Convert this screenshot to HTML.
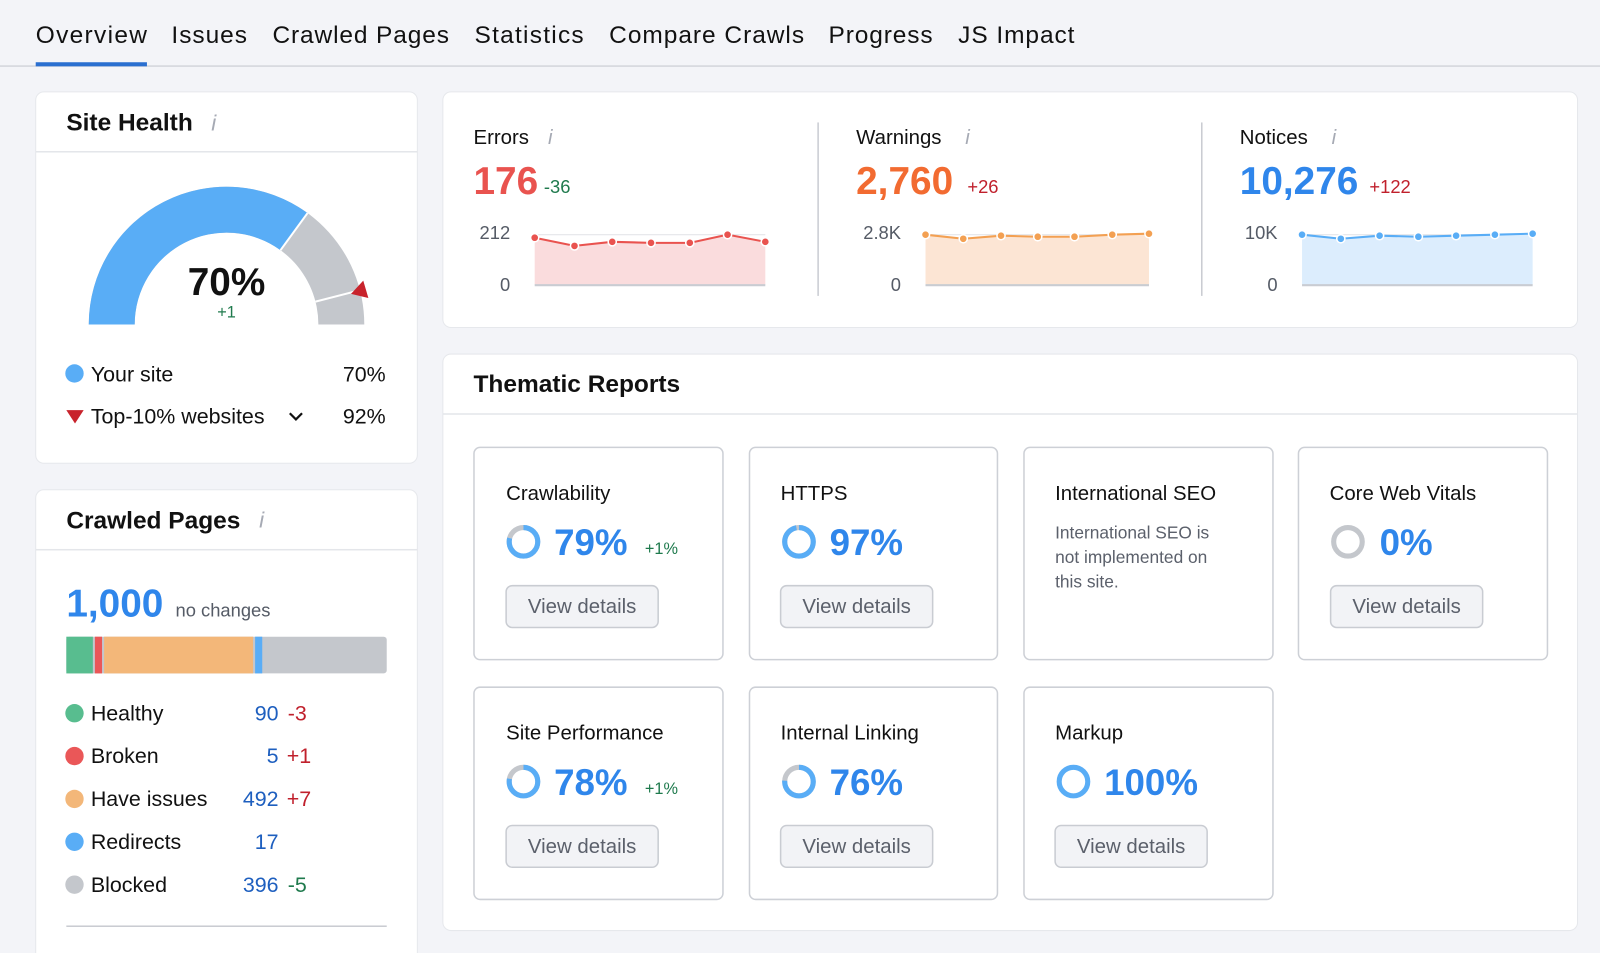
<!DOCTYPE html>
<html><head><meta charset="utf-8"><style>
html,body{margin:0;padding:0;background:#f3f4f8;}
svg{display:block}
text{font-family:"Liberation Sans",sans-serif;}
</style></head><body>
<svg width="1600" height="953" viewBox="0 0 1568 934" preserveAspectRatio="none" xmlns="http://www.w3.org/2000/svg">
<rect x="0" y="0" width="1568" height="934" fill="#f3f4f8"/>
<g font-size="24" fill="#111">
<text x="35" y="42" textLength="109">Overview</text>
<text x="168" y="42" textLength="74">Issues</text>
<text x="267" y="42" textLength="173">Crawled Pages</text>
<text x="465" y="42" textLength="107">Statistics</text>
<text x="597" y="42" textLength="191">Compare Crawls</text>
<text x="812" y="42" textLength="102">Progress</text>
<text x="939" y="42" textLength="114">JS Impact</text>
</g>
<rect x="0" y="64" width="1568" height="1.5" fill="#d3d6dc"/>
<rect x="35" y="61" width="109" height="4" fill="#2a6fd0"/>

<rect x="35" y="90" width="374" height="364" rx="8" fill="#fff" stroke="#e6e8ec"/>
<text x="65" y="128" font-size="24" font-weight="bold" fill="#111">Site Health</text>
<text x="207" y="128" font-size="22" font-style="italic" fill="#a6aab4" font-family="Liberation Serif">i</text>
<rect x="35" y="148" width="374" height="1.5" fill="#e4e6ea"/>
<path d="M87 318 A135 135 0 0 1 357 318 L312 318 A90 90 0 0 0 132 318 Z" fill="#c4c7cc"/>
<path d="M87 318 A135 135 0 0 1 301.4 208.8 L274.9 245.2 A90 90 0 0 0 132 318 Z" fill="#59adf6"/>
<line x1="301.4" y1="208.8" x2="274.9" y2="245.2" stroke="#fff" stroke-width="2"/>
<line x1="352.8" y1="284.4" x2="309.2" y2="295.6" stroke="#fff" stroke-width="2"/>
<polygon points="344,288 356,275 361,292" fill="#c8232c"/>
<text x="222" y="289" font-size="38" font-weight="bold" fill="#111" text-anchor="middle">70%</text>
<text x="222" y="311" font-size="16" fill="#1f7a4d" text-anchor="middle">+1</text>
<circle cx="73" cy="366" r="9" fill="#59adf6"/>
<text x="89" y="374" font-size="21" fill="#111">Your site</text>
<text x="378" y="374" font-size="21" fill="#111" text-anchor="end">70%</text>
<polygon points="65,402 82,402 73.5,415" fill="#c8232c"/>
<text x="89" y="415" font-size="21" fill="#111">Top-10% websites</text>
<path d="M284 405 L290 411 L296 405" fill="none" stroke="#111" stroke-width="2.2"/>
<text x="378" y="415" font-size="21" fill="#111" text-anchor="end">92%</text>

<rect x="35" y="480" width="374" height="470" rx="8" fill="#fff" stroke="#e6e8ec"/>
<text x="65" y="518" font-size="24" font-weight="bold" fill="#111">Crawled Pages</text>
<text x="254" y="517" font-size="22" font-style="italic" fill="#a6aab4" font-family="Liberation Serif">i</text>
<rect x="35" y="538" width="374" height="1.5" fill="#e4e6ea"/>
<text x="65" y="604" font-size="38" font-weight="bold" fill="#2f86eb">1,000</text>
<text x="172" y="604" font-size="18" fill="#555b66">no changes</text>
<rect x="65" y="624" width="314" height="36" rx="3" fill="#c4c7cc"/>
<rect x="65" y="624" width="26" height="36" fill="#58bd8f"/>
<rect x="93" y="624" width="7" height="36" fill="#ea5758"/>
<rect x="102" y="624" width="146" height="36" fill="#f3b779"/>
<rect x="250" y="624" width="7" height="36" fill="#59adf6"/>
<g font-size="21">
<circle cx="73" cy="699" r="9" fill="#58bd8f"/><text x="89" y="706" fill="#111">Healthy</text><text x="273" y="706" fill="#1e5fbf" text-anchor="end">90</text><text x="282" y="706" fill="#c0202c">-3</text>
<circle cx="73" cy="741" r="9" fill="#ea5758"/><text x="89" y="748" fill="#111">Broken</text><text x="273" y="748" fill="#1e5fbf" text-anchor="end">5</text><text x="281" y="748" fill="#c0202c">+1</text>
<circle cx="73" cy="783" r="9" fill="#f3b779"/><text x="89" y="790" fill="#111">Have issues</text><text x="273" y="790" fill="#1e5fbf" text-anchor="end">492</text><text x="281" y="790" fill="#c0202c">+7</text>
<circle cx="73" cy="825" r="9" fill="#59adf6"/><text x="89" y="832" fill="#111">Redirects</text><text x="273" y="832" fill="#1e5fbf" text-anchor="end">17</text>
<circle cx="73" cy="867" r="9" fill="#c4c7cc"/><text x="89" y="874" fill="#111">Blocked</text><text x="273" y="874" fill="#1e5fbf" text-anchor="end">396</text><text x="282" y="874" fill="#1f7a4d">-5</text>
</g>
<rect x="65" y="907" width="314" height="1.5" fill="#c9ccd2"/>

<rect x="434" y="90" width="1112" height="231" rx="8" fill="#fff" stroke="#e6e8ec"/>
<rect x="801" y="120" width="1.5" height="170" fill="#c9ccd2"/>
<rect x="1177" y="120" width="1.5" height="170" fill="#c9ccd2"/>
<g font-size="20" fill="#111">
<text x="464" y="141">Errors</text>
<text x="839" y="141">Warnings</text>
<text x="1215" y="141">Notices</text>
</g>
<g font-size="20" font-style="italic" fill="#a6aab4" font-family="Liberation Serif">
<text x="537" y="141">i</text><text x="946" y="141">i</text><text x="1305" y="141">i</text>
</g>
<text x="464" y="190" font-size="38" font-weight="bold" fill="#e9534f">176</text>
<text x="533" y="189" font-size="18" fill="#1f7a4d">-36</text>
<text x="839" y="190" font-size="38" font-weight="bold" fill="#f26b31">2,760</text>
<text x="948" y="189" font-size="18" fill="#c0202c">+26</text>
<text x="1215" y="190" font-size="38" font-weight="bold" fill="#2f86eb">10,276</text>
<text x="1342" y="189" font-size="18" fill="#c0202c">+122</text>
<g font-size="18" fill="#555b66" text-anchor="end">
<text x="500" y="234">212</text><text x="500" y="285">0</text>
<text x="883" y="234">2.8K</text><text x="883" y="285">0</text>
<text x="1252" y="234">10K</text><text x="1252" y="285">0</text>
</g>
<line x1="524" y1="230" x2="750" y2="230" stroke="#e4e6ea"/>
<polygon points="524,233 563,241 600,237 638,238 676,238 713,230 750,237 750,279 524,279" fill="#fadcdd"/>
<polyline points="524,233 563,241 600,237 638,238 676,238 713,230 750,237" fill="none" stroke="#e9534f" stroke-width="2"/>
<line x1="524" y1="279.5" x2="750" y2="279.5" stroke="#c9ccd2" stroke-width="2"/>
<g fill="#e9534f" stroke="#fff" stroke-width="1.5">
<circle cx="524" cy="233" r="4"/><circle cx="563" cy="241" r="4"/><circle cx="600" cy="237" r="4"/><circle cx="638" cy="238" r="4"/><circle cx="676" cy="238" r="4"/><circle cx="713" cy="230" r="4"/><circle cx="750" cy="237" r="4"/>
</g>
<line x1="907" y1="230" x2="1126" y2="230" stroke="#e4e6ea"/>
<polygon points="907,230 944,234 981,231 1017,232 1053,232 1090,230 1126,229 1126,279 907,279" fill="#fce5d4"/>
<polyline points="907,230 944,234 981,231 1017,232 1053,232 1090,230 1126,229" fill="none" stroke="#f3a052" stroke-width="2"/>
<line x1="907" y1="279.5" x2="1126" y2="279.5" stroke="#c9ccd2" stroke-width="2"/>
<g fill="#f3a052" stroke="#fff" stroke-width="1.5">
<circle cx="907" cy="230" r="4"/><circle cx="944" cy="234" r="4"/><circle cx="981" cy="231" r="4"/><circle cx="1017" cy="232" r="4"/><circle cx="1053" cy="232" r="4"/><circle cx="1090" cy="230" r="4"/><circle cx="1126" cy="229" r="4"/>
</g>
<line x1="1276" y1="230" x2="1502" y2="230" stroke="#e4e6ea"/>
<polygon points="1276,230 1314,234 1352,231 1390,232 1427,231 1465,230 1502,229 1502,279 1276,279" fill="#dcedfd"/>
<polyline points="1276,230 1314,234 1352,231 1390,232 1427,231 1465,230 1502,229" fill="none" stroke="#59adf6" stroke-width="2"/>
<line x1="1276" y1="279.5" x2="1502" y2="279.5" stroke="#c9ccd2" stroke-width="2"/>
<g fill="#59adf6" stroke="#fff" stroke-width="1.5">
<circle cx="1276" cy="230" r="4"/><circle cx="1314" cy="234" r="4"/><circle cx="1352" cy="231" r="4"/><circle cx="1390" cy="232" r="4"/><circle cx="1427" cy="231" r="4"/><circle cx="1465" cy="230" r="4"/><circle cx="1502" cy="229" r="4"/>
</g>

<rect x="434" y="347" width="1112" height="565" rx="8" fill="#fff" stroke="#e6e8ec"/>
<text x="464" y="384" font-size="24" font-weight="bold" fill="#111">Thematic Reports</text>
<rect x="434" y="405" width="1112" height="1.5" fill="#e4e6ea"/>

<g fill="#fff" stroke="#cdd0d6" stroke-width="1.5">
<rect x="464.5" y="438.5" width="244" height="208" rx="6"/>
<rect x="734.5" y="438.5" width="243" height="208" rx="6"/>
<rect x="1003.5" y="438.5" width="244" height="208" rx="6"/>
<rect x="1272.5" y="438.5" width="244" height="208" rx="6"/>
<rect x="464.5" y="673.5" width="244" height="208" rx="6"/>
<rect x="734.5" y="673.5" width="243" height="208" rx="6"/>
<rect x="1003.5" y="673.5" width="244" height="208" rx="6"/>
</g>
<g font-size="20" fill="#111">
<text x="496" y="490">Crawlability</text>
<text x="765" y="490">HTTPS</text>
<text x="1034" y="490">International SEO</text>
<text x="1303" y="490">Core Web Vitals</text>
<text x="496" y="725">Site Performance</text>
<text x="765" y="725">Internal Linking</text>
<text x="1034" y="725">Markup</text>
</g>
<g font-size="17" fill="#5b606b">
<text x="1034" y="528">International SEO is</text>
<text x="1034" y="552">not implemented on</text>
<text x="1034" y="576">this site.</text>
</g>
<g fill="none" stroke-width="5">
<circle cx="513" cy="531" r="14" stroke="#c4c7cc"/>
<circle cx="513" cy="531" r="14" stroke="#59adf6" stroke-dasharray="69.5 100" transform="rotate(-90 513 531)"/>
<circle cx="783" cy="531" r="14" stroke="#c4c7cc"/>
<circle cx="783" cy="531" r="14" stroke="#59adf6" stroke-dasharray="85.3 100" transform="rotate(-90 783 531)"/>
<circle cx="1321" cy="531" r="14" stroke="#c4c7cc"/>
<circle cx="513" cy="766" r="14" stroke="#c4c7cc"/>
<circle cx="513" cy="766" r="14" stroke="#59adf6" stroke-dasharray="68.6 100" transform="rotate(-90 513 766)"/>
<circle cx="783" cy="766" r="14" stroke="#c4c7cc"/>
<circle cx="783" cy="766" r="14" stroke="#59adf6" stroke-dasharray="66.8 100" transform="rotate(-90 783 766)"/>
<circle cx="1052" cy="766" r="14" stroke="#59adf6"/>
</g>
<g font-size="36" font-weight="bold" fill="#2f86eb">
<text x="543" y="544">79%</text>
<text x="813" y="544">97%</text>
<text x="1352" y="544">0%</text>
<text x="543" y="779">78%</text>
<text x="813" y="779">76%</text>
<text x="1082" y="779">100%</text>
</g>
<g font-size="16" fill="#1f7a4d">
<text x="632" y="543">+1%</text>
<text x="632" y="778">+1%</text>
</g>
<g fill="#f2f3f6" stroke="#c9ccd2" stroke-width="1.5">
<rect x="496" y="574" width="149" height="41" rx="6"/>
<rect x="765" y="574" width="149" height="41" rx="6"/>
<rect x="1304" y="574" width="149" height="41" rx="6"/>
<rect x="496" y="809" width="149" height="41" rx="6"/>
<rect x="765" y="809" width="149" height="41" rx="6"/>
<rect x="1034" y="809" width="149" height="41" rx="6"/>
</g>
<g font-size="20" fill="#5b606b" text-anchor="middle">
<text x="570.5" y="601">View details</text>
<text x="839.5" y="601">View details</text>
<text x="1378.5" y="601">View details</text>
<text x="570.5" y="836">View details</text>
<text x="839.5" y="836">View details</text>
<text x="1108.5" y="836">View details</text>
</g>
</svg>
</body></html>
